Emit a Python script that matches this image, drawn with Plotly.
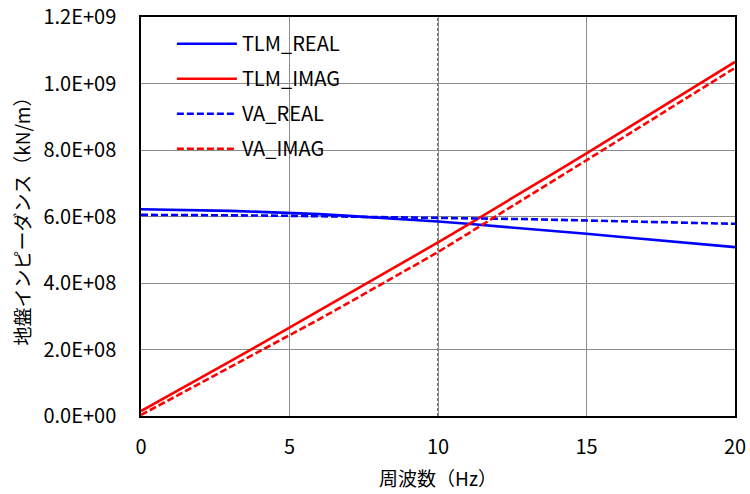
import plotly.graph_objects as go

freq = list(range(0, 21))
tlm_real = [0.622, 0.621, 0.619, 0.617, 0.614, 0.611, 0.607, 0.602, 0.597, 0.591, 0.585,
            0.578, 0.571, 0.564, 0.556, 0.548, 0.540, 0.532, 0.524, 0.516, 0.508]
tlm_imag = [0.015, 0.064, 0.114, 0.164, 0.215, 0.266, 0.317, 0.368, 0.419, 0.470, 0.522,
            0.575, 0.628, 0.682, 0.736, 0.790, 0.845, 0.900, 0.955, 1.010, 1.065]
va_real = [0.605, 0.605, 0.604, 0.604, 0.603, 0.602, 0.601, 0.600, 0.599, 0.598, 0.596,
           0.595, 0.593, 0.592, 0.590, 0.588, 0.586, 0.584, 0.582, 0.580, 0.578]
va_imag = [0.003, 0.051, 0.098, 0.146, 0.193, 0.241, 0.291, 0.341, 0.391, 0.442, 0.493,
           0.548, 0.603, 0.658, 0.714, 0.770, 0.825, 0.880, 0.936, 0.991, 1.047]
scale = 1e9

y_tick_vals = [0, 0.2e9, 0.4e9, 0.6e9, 0.8e9, 1.0e9, 1.2e9]
y_tick_text = ["0.0E+00", "2.0E+08", "4.0E+08", "6.0E+08", "8.0E+08", "1.0E+09", "1.2E+09"]
x_tick_vals = [0, 5, 10, 15, 20]

series = [
    ("TLM_REAL", tlm_real, "#0000FF", "solid"),
    ("TLM_IMAG", tlm_imag, "#FF0000", "solid"),
    ("VA_REAL", va_real, "#0000FF", "7px,3px"),
    ("VA_IMAG", va_imag, "#FF0000", "7px,3px"),
]

fig = go.Figure()
for name, vals, color, dash in series:
    fig.add_trace(go.Scatter(
        x=freq, y=[v * scale for v in vals], mode="lines", name=name,
        legendgroup=name,
        line=dict(color=color, width=2.6, dash=dash),
    ))

font_main = "Noto Sans CJK JP, Noto Sans, sans-serif"

fig.add_shape(type="line", xref="x", yref="paper", x0=10, x1=10, y0=0, y1=1,
              line=dict(color="#404040", width=1.5, dash="3px,2px"), layer="below")

fig.update_layout(
    width=750, height=494,
    margin=dict(l=141, r=15, t=17, b=78, autoexpand=False),
    paper_bgcolor="white", plot_bgcolor="white",
    font=dict(family=font_main, size=20, color="black"),
    legend=dict(x=0.052, y=0.982, xanchor="left", yanchor="top",
                bgcolor="rgba(0,0,0,0)", font=dict(size=20),
                tracegroupgap=6, itemwidth=60),
    xaxis=dict(range=[0, 20], tickvals=x_tick_vals, showgrid=True,
               gridcolor="#8c8c8c", gridwidth=1.2, automargin=False,
               showline=True, linecolor="black", linewidth=1.5, mirror=True,
               ticks="", zeroline=False, ticklabelstandoff=12,
               ticklabeloverflow="allow",
               tickfont=dict(size=20),
               title=dict(text="周波数（Hz）", font=dict(size=19), standoff=14)),
    yaxis=dict(range=[0, 1.2e9], tickvals=y_tick_vals, ticktext=y_tick_text,
               showgrid=True, gridcolor="#8c8c8c", gridwidth=1.2, automargin=False,
               showline=True, linecolor="black", linewidth=1.5, mirror=True,
               ticks="", zeroline=False, ticklabelstandoff=19,
               ticklabeloverflow="allow",
               tickfont=dict(size=20),
               title=dict(text="地盤インピーダンス（kN/m）", font=dict(size=19), standoff=8)),
)

fig.write_html("out.html", config={"displayModeBar": False},
               post_script="document.body.style.margin='0';document.body.style.overflow='hidden';")
